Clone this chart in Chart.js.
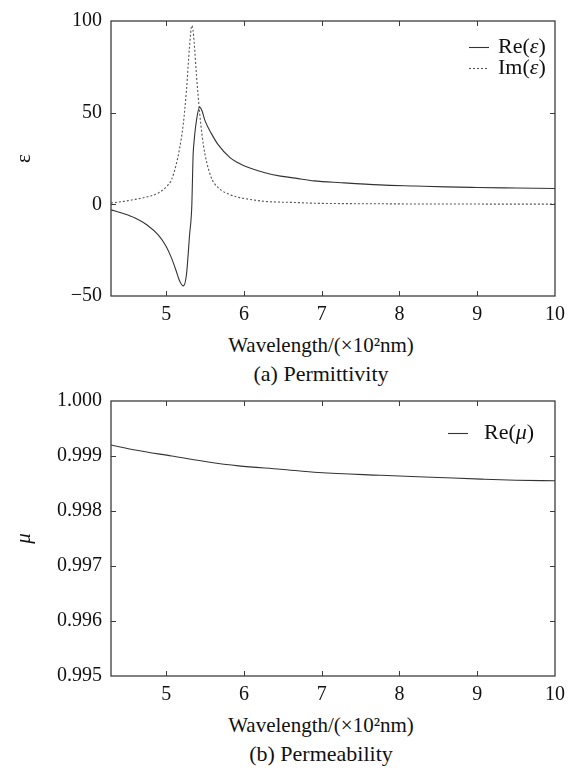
<!DOCTYPE html>
<html>
<head>
<meta charset="utf-8">
<script src="https://cdn.jsdelivr.net/npm/chart.js@4.4.0/dist/chart.umd.min.js"></script>
<style>
    html, body { margin: 0; padding: 0; background: #fff; }
    #fig { position: relative; width: 573px; height: 772px; font-family: "Liberation Serif", "DejaVu Serif", serif; color: #111; }
    .panel { position: absolute; left: 0; width: 573px; height: 330px; }
    .lbl { position: absolute; left: 321px; transform: translateX(-50%); white-space: nowrap; }
    .axis-title { font-size: 21px; line-height: 24px; }
    .caption { font-size: 22px; line-height: 26px; }
</style>
</head>
<body>
<div id="fig">
    <div class="panel" style="top:0"><canvas id="epsChart"></canvas></div>
    <div class="lbl axis-title" style="top:333px">Wavelength/(×10²nm)</div>
    <div class="lbl caption" style="top:361px">(a) Permittivity</div>
    <div class="panel" style="top:380px"><canvas id="muChart"></canvas></div>
    <div class="lbl axis-title" style="top:713px">Wavelength/(×10²nm)</div>
    <div class="lbl caption" style="top:741px">(b) Permeability</div>
</div>
<script>
(function() {
    'use strict';

    // Data, wavelength in units of 10^2 nm
    const wavelength = [4.29, 4.45, 4.6, 4.75, 4.9, 5.0, 5.07, 5.13, 5.17, 5.22, 5.26, 5.3, 5.33, 5.345, 5.36,
        5.39, 5.43, 5.46, 5.5, 5.58, 5.67, 5.82, 5.93, 6.0, 6.27, 6.47, 6.66, 6.9, 7.25, 7.75, 8.2, 8.6, 9.0, 9.5, 10];
    const reEps = [-3.0, -5.0, -7.4, -11.1, -16.8, -23, -29.5, -36.5, -41.5, -44.5, -38.5, -17, 0, 26, 35,
        46, 53, 51, 45.5, 38.7, 32.4, 25.5, 22.5, 21, 17.2, 15.4, 14.3, 12.8, 11.8, 10.6, 10.0, 9.5, 9.2, 8.9, 8.6];
    const imEps = [0.7, 1.6, 2.7, 4.0, 6.2, 9.5, 13.6, 22, 30, 44, 62, 86, 97.5, 95, 88,
        70, 50, 38, 27, 14.5, 9, 5.3, 3.8, 3.2, 1.6, 1.2, 1.0, 0.6, 0.4, 0.3, 0.2, 0.2, 0.15, 0.1, 0.1];

    const wavelengthMu = [4.29, 4.6, 5.07, 5.5, 5.93, 6.47, 6.96, 7.76, 8.5, 9.05, 9.5, 10];
    const reMu = [0.99920, 0.99911, 0.99900, 0.99890, 0.99882, 0.99876, 0.99870, 0.99865, 0.99861, 0.99858, 0.99856, 0.99855];

    const xTicks = [5, 6, 7, 8, 9, 10];
    const epsTicks = [-50, 0, 50, 100];
    const muTicks = [0.995, 0.996, 0.997, 0.998, 0.999, 1.000];

    const FONT = '"Liberation Serif", "DejaVu Serif", serif';
    const INK = '#111';

    function pairs(xs, ys) {
        return xs.map(function(x, i) { return { x: x, y: ys[i] }; });
    }

    // box frame with inward ticks on all four sides
    const frameTicks = {
        id: 'frameTicks',
        afterDraw: function(chart) {
            const ctx = chart.ctx, a = chart.chartArea, x = chart.scales.x, y = chart.scales.y;
            ctx.save();
            ctx.strokeStyle = '#3c3c3c';
            ctx.lineWidth = 1.3;
            ctx.strokeRect(a.left, a.top, a.width, a.height);
            ctx.lineWidth = 1;
            ctx.beginPath();
            x.ticks.forEach(function(t) {
                if (t.value <= x.min || t.value >= x.max) return;
                const px = Math.round(x.getPixelForValue(t.value)) + 0.5;
                ctx.moveTo(px, a.bottom); ctx.lineTo(px, a.bottom - 5);
                ctx.moveTo(px, a.top); ctx.lineTo(px, a.top + 5);
            });
            y.ticks.forEach(function(t) {
                if (t.value <= y.min + 1e-9 || t.value >= y.max - 1e-9) return;
                const py = Math.round(y.getPixelForValue(t.value)) + 0.5;
                ctx.moveTo(a.left, py); ctx.lineTo(a.left + 5, py);
                ctx.moveTo(a.right, py); ctx.lineTo(a.right - 5, py);
            });
            ctx.stroke();
            ctx.restore();
        }
    };

    // legend drawn inside the plot, greek letters in italic
    const inlineLegend = {
        id: 'inlineLegend',
        afterDraw: function(chart, args, opts) {
            const ctx = chart.ctx;
            chart.data.datasets.forEach(function(ds, i) {
                const y = opts.y + i * opts.rowGap;
                ctx.save();
                ctx.strokeStyle = ds.borderColor;
                ctx.lineWidth = ds.borderWidth;
                ctx.setLineDash(ds.borderDash || []);
                ctx.beginPath();
                ctx.moveTo(opts.x, y + 0.5);
                ctx.lineTo(opts.x + opts.lineLen, y + 0.5);
                ctx.stroke();
                ctx.setLineDash([]);
                ctx.fillStyle = INK;
                ctx.textBaseline = 'middle';
                let tx = opts.x + opts.lineLen + opts.gap;
                ds.label.split(/([\u0370-\u03ff])/).forEach(function(part) {
                    if (!part) return;
                    ctx.font = (/[\u0370-\u03ff]/.test(part) ? 'italic ' : '') + opts.size + 'px ' + FONT;
                    ctx.fillText(part, tx, y);
                    tx += ctx.measureText(part).width;
                });
                ctx.restore();
            });
        }
    };

    function xScale() {
        return {
            type: 'linear', min: 4.29, max: 10,
            grid: { display: false, drawTicks: false },
            border: { display: false },
            afterBuildTicks: function(s) { s.ticks = xTicks.map(function(v) { return { value: v }; }); },
            afterFit: function(s) { s.height = 34; },
            ticks: { padding: 7, color: INK, font: { family: FONT, size: 20 }, callback: function(v) { return String(v); } }
        };
    }

    function yScale(min, max, tickList, fmt, title, italic) {
        return {
            type: 'linear', min: min, max: max,
            grid: { display: false, drawTicks: false },
            border: { display: false },
            afterBuildTicks: function(s) { s.ticks = tickList.map(function(v) { return { value: v }; }); },
            afterFit: function(s) { s.width = 111; },
            ticks: { padding: 9, color: INK, font: { family: FONT, size: 20 }, callback: fmt },
            title: { display: true, text: title, color: INK, padding: { top: 12, bottom: 0 },
                font: { family: FONT, size: 21, style: italic ? 'italic' : 'normal' } }
        };
    }

    Chart.defaults.font.family = FONT;

    new Chart(document.getElementById('epsChart'), {
        type: 'line',
        data: {
            datasets: [
                { label: 'Re(ε)', data: pairs(wavelength, reEps), borderColor: '#333', borderWidth: 1.1,
                  pointRadius: 0, cubicInterpolationMode: 'monotone', fill: false },
                { label: 'Im(ε)', data: pairs(wavelength, imEps), borderColor: '#555', borderWidth: 1.1, borderDash: [2, 2],
                  pointRadius: 0, cubicInterpolationMode: 'monotone', fill: false }
            ]
        },
        options: {
            responsive: true, maintainAspectRatio: false, animation: false, devicePixelRatio: 1,
            layout: { padding: { top: 16, right: 18, bottom: 0, left: 0 } },
            plugins: {
                legend: { display: false }, tooltip: { enabled: false },
                inlineLegend: { x: 469, y: 47, rowGap: 21, lineLen: 20, gap: 9, size: 22 }
            },
            scales: {
                x: xScale(),
                y: yScale(-50, 100, epsTicks, function(v) { return v < 0 ? '\u2212' + Math.abs(v) : String(v); }, 'ε', false)
            }
        },
        plugins: [frameTicks, inlineLegend]
    });

    new Chart(document.getElementById('muChart'), {
        type: 'line',
        data: {
            datasets: [
                { label: 'Re(μ)', data: pairs(wavelengthMu, reMu), borderColor: '#333', borderWidth: 1.1,
                  pointRadius: 0, cubicInterpolationMode: 'monotone', fill: false }
            ]
        },
        options: {
            responsive: true, maintainAspectRatio: false, animation: false, devicePixelRatio: 1,
            layout: { padding: { top: 16, right: 18, bottom: 0, left: 0 } },
            plugins: {
                legend: { display: false }, tooltip: { enabled: false },
                inlineLegend: { x: 448, y: 53, rowGap: 21, lineLen: 20, gap: 16, size: 22 }
            },
            scales: {
                x: xScale(),
                y: yScale(0.995, 1.0, muTicks, function(v) { return v.toFixed(3); }, 'μ', true)
            }
        },
        plugins: [frameTicks, inlineLegend]
    });
})();
</script>
</body>
</html>
